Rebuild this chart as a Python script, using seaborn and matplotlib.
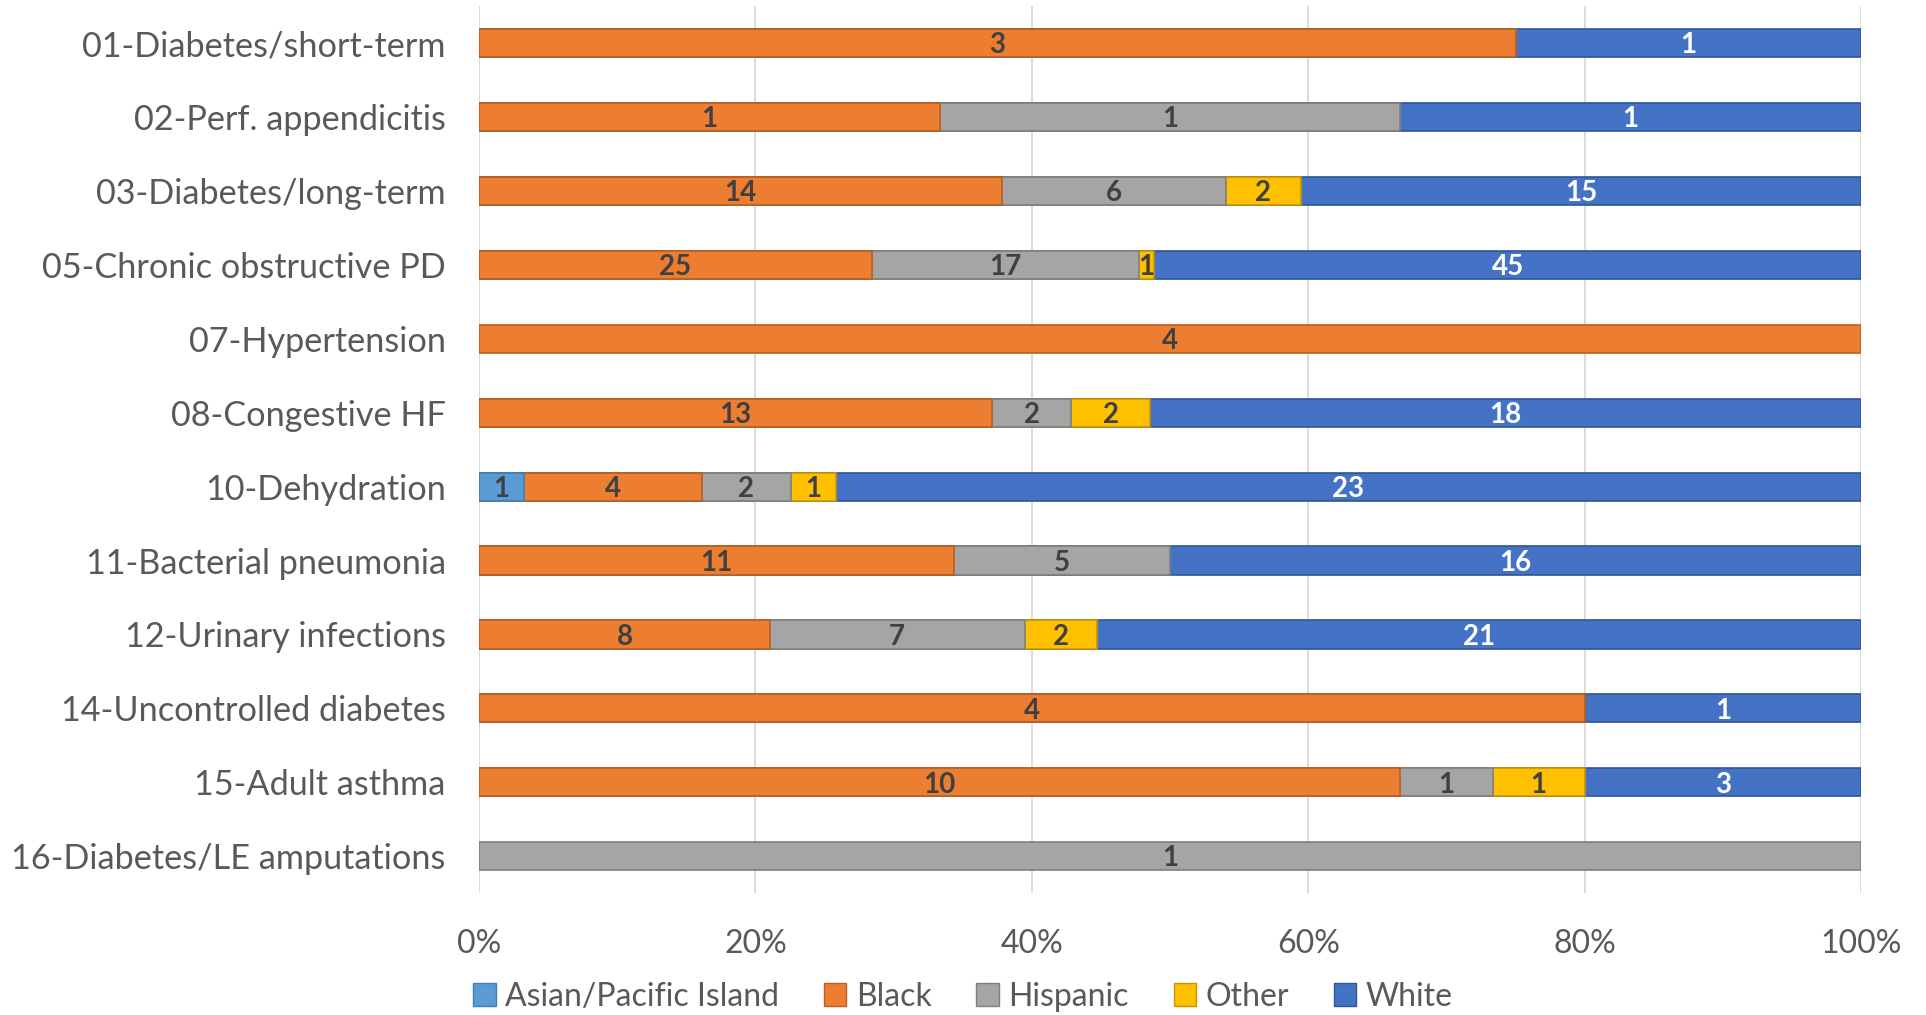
import numpy as np
import pandas as pd
import seaborn as sns
import matplotlib.pyplot as plt
from matplotlib.patches import Patch

# Data
categories = ["01-Diabetes/short-term", "02-Perf. appendicitis", "03-Diabetes/long-term",
              "05-Chronic obstructive PD", "07-Hypertension", "08-Congestive HF",
              "10-Dehydration", "11-Bacterial pneumonia", "12-Urinary infections",
              "14-Uncontrolled diabetes", "15-Adult asthma", "16-Diabetes/LE amputations"]
asian    = [0, 0, 0, 0, 0, 0, 1, 0, 0, 0, 0, 0]
black    = [3, 1, 14, 25, 4, 13, 4, 11, 8, 4, 10, 0]
hispanic = [0, 1, 6, 17, 0, 2, 2, 5, 7, 0, 1, 1]
other    = [0, 0, 2, 1, 0, 2, 1, 0, 2, 0, 1, 0]
white    = [1, 1, 15, 45, 0, 18, 23, 16, 21, 1, 3, 0]

series_names = ["Asian/Pacific Island", "Black", "Hispanic", "Other", "White"]
series_vals = [asian, black, hispanic, other, white]
colors = ["#5B9BD5", "#ED7D31", "#A5A5A5", "#FFC000", "#4472C4"]
edges = ["#3F7FB8", "#B85F22", "#7F7F7F", "#C89600", "#2F5597"]
label_colors = ["#404040", "#404040", "#404040", "#404040", "white"]

sns.set_theme(style="whitegrid")
plt.rcParams['font.family'] = ['Lato', 'DejaVu Sans']

counts = np.array(series_vals, dtype=float)
totals = counts.sum(axis=0)
pct = counts / totals * 100
ends = np.cumsum(pct, axis=0)
starts = ends - pct

fig = plt.figure(figsize=(19.26, 10.15), dpi=100)
ax = fig.add_axes([0.2487, 0.12, 0.7176, 0.874])

# draw from last series backwards so earlier segments sit on top
for i in range(len(series_names) - 1, -1, -1):
    end_vals = np.where(counts[i] > 0, ends[i], np.nan)
    df = pd.DataFrame({"cat": categories, "end": end_vals}).dropna()
    sns.barplot(data=df, x="end", y="cat", order=categories, orient="h",
                color=colors[i], edgecolor=edges[i], linewidth=1.2,
                width=0.38, saturation=1, errorbar=None, ax=ax)

for i in range(len(series_names)):
    for j in range(len(categories)):
        if counts[i, j] > 0:
            ax.text((starts[i, j] + ends[i, j]) / 2, j + 0.03, f"{int(counts[i, j])}",
                    ha="center", va="center", fontsize=20, fontweight="bold",
                    color=label_colors[i])

ax.set_xlim(0, 100)
ax.set_ylim(len(categories) - 0.5, -0.5)
ax.set_xticks(np.arange(0, 101, 20))
ax.set_xticklabels([f"{v}%" for v in range(0, 101, 20)])
ax.set_xlabel("")
ax.set_ylabel("")
ax.grid(axis="x", color="#D9D9D9", linewidth=1.3)
ax.grid(axis="y", visible=False)
for s in ax.spines.values():
    s.set_visible(False)
ax.set_facecolor("white")
ax.tick_params(axis="x", labelsize=23, labelcolor="#595959", pad=20)
ax.tick_params(axis="y", labelsize=24.7, labelcolor="#595959", pad=18)

handles = [Patch(facecolor=c, edgecolor=e, label=n) for n, c, e in zip(series_names, colors, edges)]
fig.legend(handles=handles, loc="center", bbox_to_anchor=(0.5, 0.018), ncol=5,
           frameon=False, fontsize=23, handlelength=0.7, handleheight=0.7,
           handletextpad=0.3, columnspacing=1.4, labelcolor="#595959")

fig.savefig("out.png", dpi=100, facecolor="white")
